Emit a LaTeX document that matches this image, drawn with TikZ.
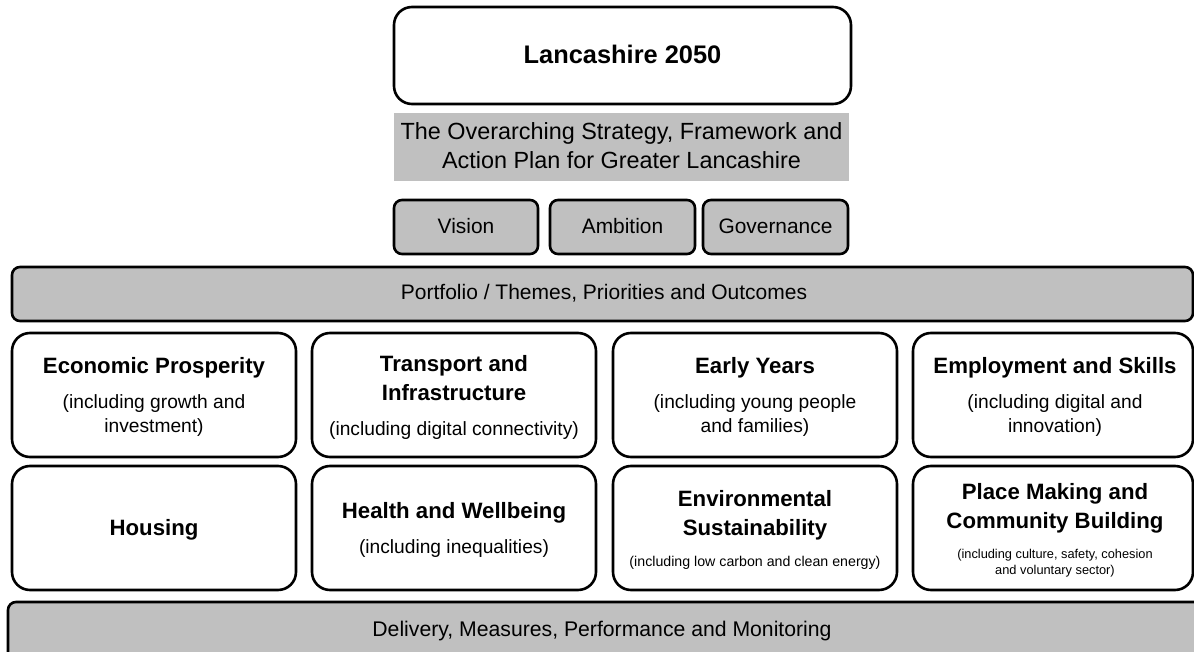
\documentclass[tikz,border=0pt]{standalone}
\usepackage{fontspec}
\setmainfont{Liberation Sans}
\definecolor{boxgray}{HTML}{C0C0C0}
\begin{document}
\begin{tikzpicture}[x=1pt,y=-1pt,
  card/.style={draw=black,line width=2.6pt,rounded corners=18pt,fill=white},
  pill/.style={draw=black,line width=2.6pt,rounded corners=8pt,fill=boxgray},
  ttl/.style={anchor=base,inner sep=0pt,font=\fontsize{22.2}{26}\selectfont\bfseries},
  sub/.style={anchor=base,inner sep=0pt,font=\fontsize{19.2}{22}\selectfont},
  lbl/.style={anchor=base,inner sep=0pt,font=\fontsize{20.9}{24}\selectfont}]
\useasboundingbox (0,0) rectangle (1194,652);
% top
\draw[card] (394,7) rectangle (851,104);
\node (top) [anchor=base,inner sep=0pt,font=\fontsize{25.4}{28}\selectfont\bfseries] at (622.5,64) {Lancashire 2050};
\fill[boxgray] (394,113) rectangle (849,181);
\node (strip1) [anchor=base,inner sep=0pt,font=\fontsize{23.4}{28}\selectfont] at (621.5,140) {The Overarching Strategy, Framework and};
\node (strip2) [anchor=base,inner sep=0pt,font=\fontsize{23.4}{28}\selectfont] at (621.5,169) {Action Plan for Greater Lancashire};
% vision row
\draw[pill] (394,200) rectangle (538,254);
\node (vision) [lbl] at (466,234) {Vision};
\draw[pill] (550,200) rectangle (695,254);
\node (ambition) [lbl] at (622.5,234) {Ambition};
\draw[pill] (703,200) rectangle (848,254);
\node (governance) [lbl] at (775.5,234) {Governance};
% portfolio bar
\draw[pill] (12,267) rectangle (1193,321);
\node (portfolio) [lbl,font=\fontsize{21}{24}\selectfont] at (604,300) {Portfolio / Themes, Priorities and Outcomes};
% row 1
\draw[card] (12,333) rectangle (296,457);
\node (ep) [ttl] at (154,373) {Economic Prosperity};
\node (ep1) [sub] at (154,408) {(including growth and};
\node (ep2) [sub] at (154,432) {investment)};
\draw[card] (312,333) rectangle (596,457);
\node (ti1) [ttl] at (454,371) {Transport and};
\node (ti2) [ttl] at (454,400) {Infrastructure};
\node (ti3) [sub] at (454,435) {(including digital connectivity)};
\draw[card] (613,333) rectangle (897,457);
\node (ey) [ttl] at (755,373) {Early Years};
\node (ey1) [sub] at (755,408) {(including young people};
\node (ey2) [sub] at (755,432) {and families)};
\draw[card] (913,333) rectangle (1193,457);
\node (es) [ttl] at (1055,373) {Employment and Skills};
\node (es1) [sub] at (1055,408) {(including digital and};
\node (es2) [sub] at (1055,432) {innovation)};
% row 2
\draw[card] (12,466) rectangle (296,590);
\node (ho) [ttl] at (154,535) {Housing};
\draw[card] (312,466) rectangle (596,590);
\node (hw) [ttl] at (454,518) {Health and Wellbeing};
\node (hw1) [sub] at (454,553) {(including inequalities)};
\draw[card] (613,466) rectangle (897,590);
\node (env1) [ttl] at (755,506) {Environmental};
\node (env2) [ttl] at (755,535) {Sustainability};
\node (env3) [anchor=base,inner sep=0pt,font=\fontsize{14.2}{17}\selectfont] at (755,566) {(including low carbon and clean energy)};
\draw[card] (913,466) rectangle (1193,590);
\node (pm1) [ttl] at (1055,499) {Place Making and};
\node (pm2) [ttl] at (1055,528) {Community Building};
\node (pm3) [anchor=base,inner sep=0pt,font=\fontsize{12.8}{15}\selectfont] at (1055,558) {(including culture, safety, cohesion};
\node (pm4) [anchor=base,inner sep=0pt,font=\fontsize{12.8}{15}\selectfont] at (1055,574) {and voluntary sector)};
% bottom bar
\draw[pill] (8,602) rectangle (1210,690);
\node (delivery) [lbl,font=\fontsize{21.2}{24}\selectfont] at (602,636) {Delivery, Measures, Performance and Monitoring};
\end{tikzpicture}
\end{document}
